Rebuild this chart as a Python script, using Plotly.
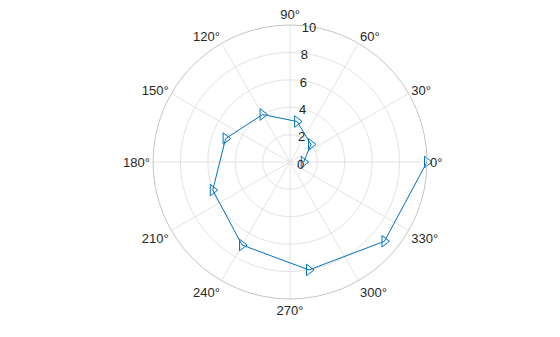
import plotly.graph_objects as go

theta_deg = [0, 40, 80, 120, 160, 200, 240, 280, 320, 360]
r_values = [1, 2, 3, 4, 5, 6, 7, 8, 9, 10]
angular_ticks = [0, 30, 60, 90, 120, 150, 180, 210, 240, 270, 300, 330]
radial_ticks = [0, 2, 4, 6, 8, 10]

W, H = 560, 337
cx, cy, R = 290, 162, 137
label_angle = 88

fig = go.Figure()
fig.add_trace(go.Scatterpolar(
    r=r_values, theta=theta_deg, mode="lines+markers",
    line=dict(color="#0072BD", width=1),
    marker=dict(symbol="triangle-right-open", size=10, color="#0072BD", line=dict(width=1)),
    showlegend=False,
))

fig.update_layout(
    width=W, height=H,
    margin=dict(l=0, r=0, t=0, b=0),
    paper_bgcolor="white",
    font=dict(family="Liberation Sans, Arial, sans-serif", size=13, color="#262626"),
    polar=dict(
        domain=dict(x=[(cx - R) / W, (cx + R) / W], y=[(H - cy - R) / H, (H - cy + R) / H]),
        bgcolor="white",
        radialaxis=dict(
            range=[0, 10], tickvals=radial_ticks, ticktext=[str(v) for v in radial_ticks],
            angle=label_angle, tickangle=label_angle, showline=False, ticks="",
            gridcolor="#e3e3e3", gridwidth=1,
            tickfont=dict(size=13, color="#262626"),
        ),
        angularaxis=dict(
            tickvals=angular_ticks, ticktext=[f"{v}°" for v in angular_ticks],
            direction="counterclockwise", rotation=0,
            showline=True, linecolor="#c4c4c4", linewidth=1,
            gridcolor="#e3e3e3", gridwidth=1, ticks="",
            tickfont=dict(size=13, color="#262626"),
        ),
    ),
)

fig.write_html("out.html")
